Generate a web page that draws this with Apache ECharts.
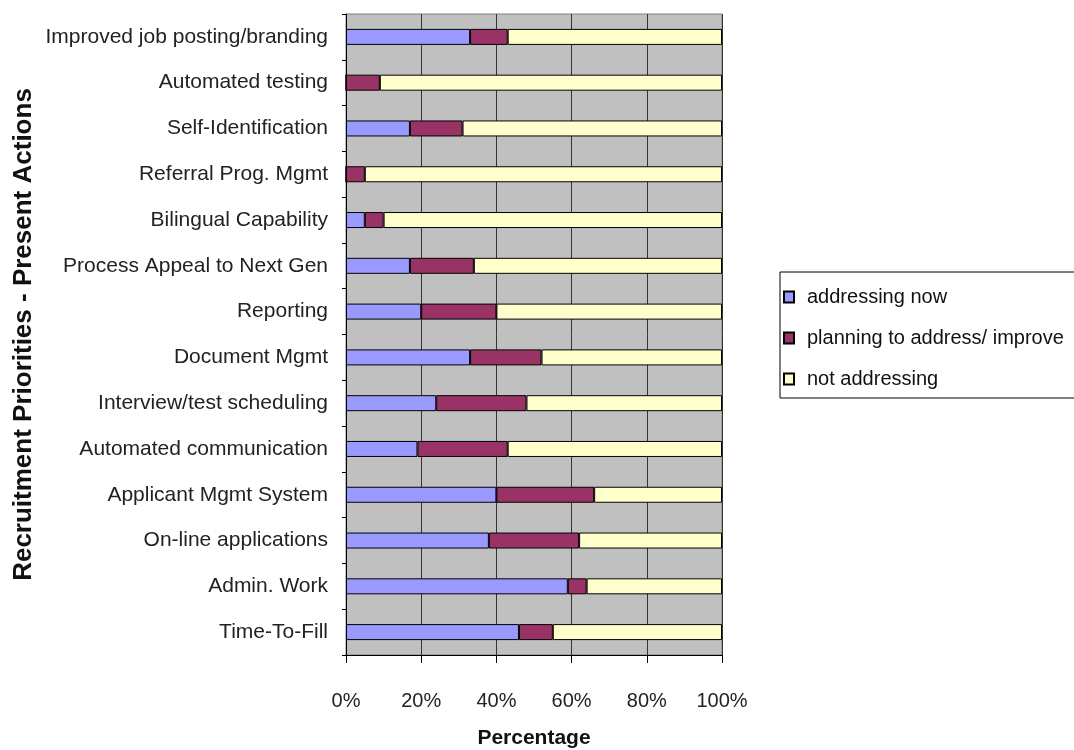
<!DOCTYPE html>
<html><head><meta charset="utf-8">
<script src="https://cdn.jsdelivr.net/npm/echarts@6/dist/echarts.min.js"></script>
<style>html,body{margin:0;padding:0;background:#fff}#c{width:1074px;height:750px}</style>
</head><body><div id="c"></div>
<script>
const categories = ["Improved job posting/branding","Automated testing","Self-Identification","Referral Prog. Mgmt","Bilingual Capability","Process Appeal to Next Gen","Reporting","Document Mgmt","Interview/test scheduling","Automated communication","Applicant Mgmt System","On-line applications","Admin. Work","Time-To-Fill"];
const addressingNow = [33,0,17,0,5,17,20,33,24,19,40,38,59,46];
const planning = [10,9,14,5,5,17,20,19,24,24,26,24,5,9];
const notAddressing = [57,91,69,95,90,66,60,48,52,57,34,38,36,45];
const xTicks = [0,20,40,60,80,100];
const seriesNames = ["addressing now","planning to address/ improve","not addressing"];
const colors = ["#9999ff","#993366","#ffffcc"];
const FF = "'Liberation Sans Narrow','Arial Narrow','Liberation Sans',Arial,sans-serif";
const FB = "'Liberation Sans',Arial,sans-serif";
const chart = echarts.init(document.getElementById('c'));
const data = [addressingNow, planning, notAddressing];
chart.setOption({
  animation:false,
  grid:{left:346,top:14,width:376,height:641,show:true,backgroundColor:'#c0c0c0',borderColor:'#808080',borderWidth:1,containLabel:false,outerBoundsMode:'none'},
  legend:{orient:'vertical',left:780,top:272,padding:[15,40,9,3],itemGap:21,itemWidth:10,itemHeight:11,
    borderColor:'#000',borderWidth:1,icon:'rect',
    textStyle:{fontFamily:FF,fontSize:20,color:'#111',padding:[0,0,0,8]},
    data:seriesNames},
  xAxis:{type:'value',min:0,max:100,interval:20,
    name:'Percentage',nameLocation:'middle',nameGap:73,
    nameTextStyle:{fontFamily:FB,fontWeight:'bold',fontSize:21,color:'#111'},
    axisLine:{show:true,lineStyle:{color:'#000',width:1}},
    axisTick:{show:true,length:8,lineStyle:{color:'#000'}},
    axisLabel:{fontFamily:FF,fontSize:20,color:'#222',margin:36,formatter:v=>v+'%'},
    splitLine:{show:true,lineStyle:{color:'#333',width:1}}},
  yAxis:{type:'category',data:categories,inverse:true,
    name:'Recruitment Priorities - Present Actions',nameLocation:'middle',nameGap:309,nameRotate:90,
    nameTextStyle:{fontFamily:FB,fontWeight:'bold',fontSize:26,color:'#111'},
    axisLine:{show:true,lineStyle:{color:'#000',width:1}},
    axisTick:{show:true,length:4,alignWithLabel:false,lineStyle:{color:'#000'}},
    axisLabel:{fontFamily:FF,fontSize:21,color:'#222',margin:18},
    splitLine:{show:false}},
  series:seriesNames.map((n,i)=>({name:n,type:'bar',stack:'s',barWidth:16,
    data:data[i],itemStyle:{color:colors[i],borderColor:'#000',borderWidth:1}}))
});
</script></body></html>
